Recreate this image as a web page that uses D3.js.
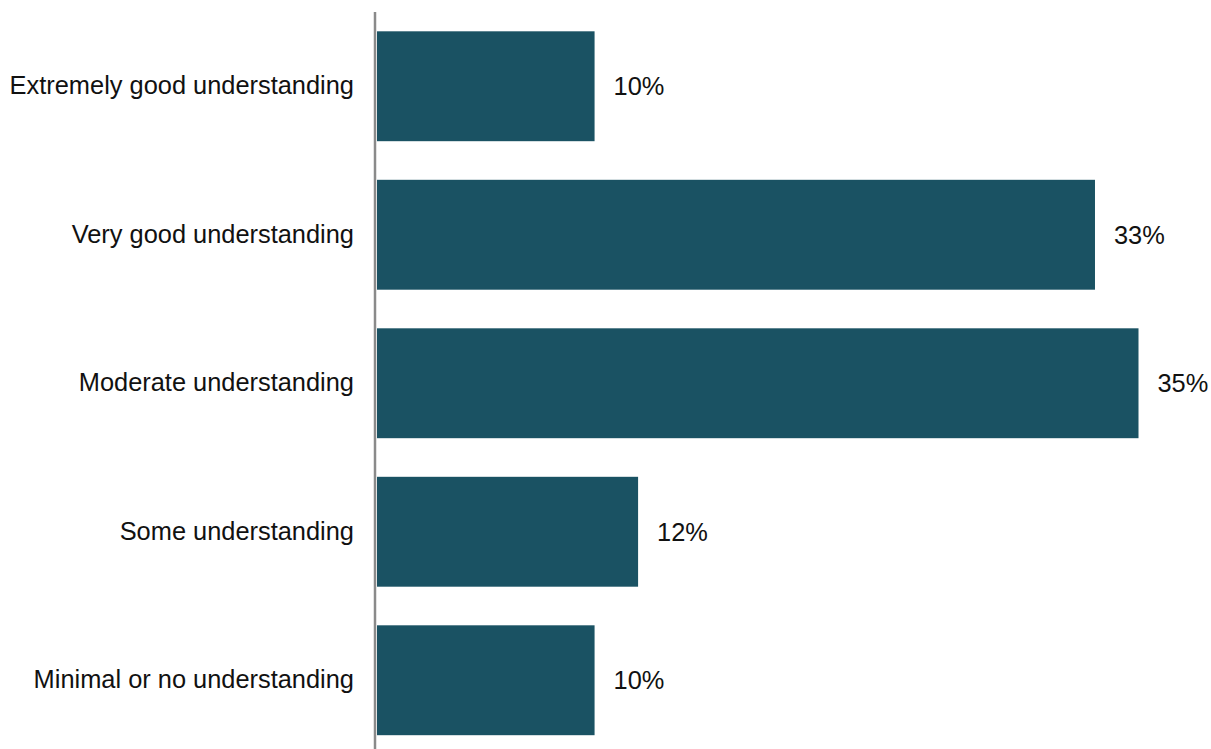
<!DOCTYPE html>
<html><head><meta charset="utf-8">
<script src="https://cdn.jsdelivr.net/npm/d3@7"></script>
<style>body{margin:0;background:#fff}svg{display:block}</style>
</head><body><svg id="c" width="1211" height="749"></svg>
<script>
const categories = ["Extremely good understanding","Very good understanding","Moderate understanding","Some understanding","Minimal or no understanding"];
const values = [10, 33, 35, 12, 10];
const valueLabels = ["10%","33%","35%","12%","10%"];

const svg = d3.select("#c");
const x0 = 377;
const x = d3.scaleLinear().domain([0, 35]).range([x0, 1138.5]);
const y = d3.scaleBand().domain(categories).range([12, 754.5]).paddingInner(0.26).paddingOuter(0.13);
const font = "'Liberation Sans', Arial, sans-serif";
const fs = 25.4;

svg.selectAll("rect.bar").data(values).join("rect")
  .attr("x", x0).attr("y", (d,i)=>y(categories[i]))
  .attr("width", d=>x(d)-x0).attr("height", y.bandwidth())
  .attr("fill", "#1a5263");

svg.selectAll("text.val").data(values).join("text")
  .attr("x", d=>x(d)+19).attr("y", (d,i)=>y(categories[i])+y.bandwidth()/2)
  .attr("dy","0.35em").attr("font-family",font).attr("font-size",fs).attr("fill","#111")
  .text((d,i)=>valueLabels[i]);

const axis = d3.axisLeft(y).tickSize(0).tickPadding(21);
const g = svg.append("g").attr("transform","translate(375,0)").call(axis);
g.select(".domain").attr("stroke","#8a8a8a").attr("stroke-width",2.5).attr("d","M0,12V749");
g.selectAll("text").attr("font-family",font).attr("font-size",fs).attr("fill","#111");
</script></body></html>
